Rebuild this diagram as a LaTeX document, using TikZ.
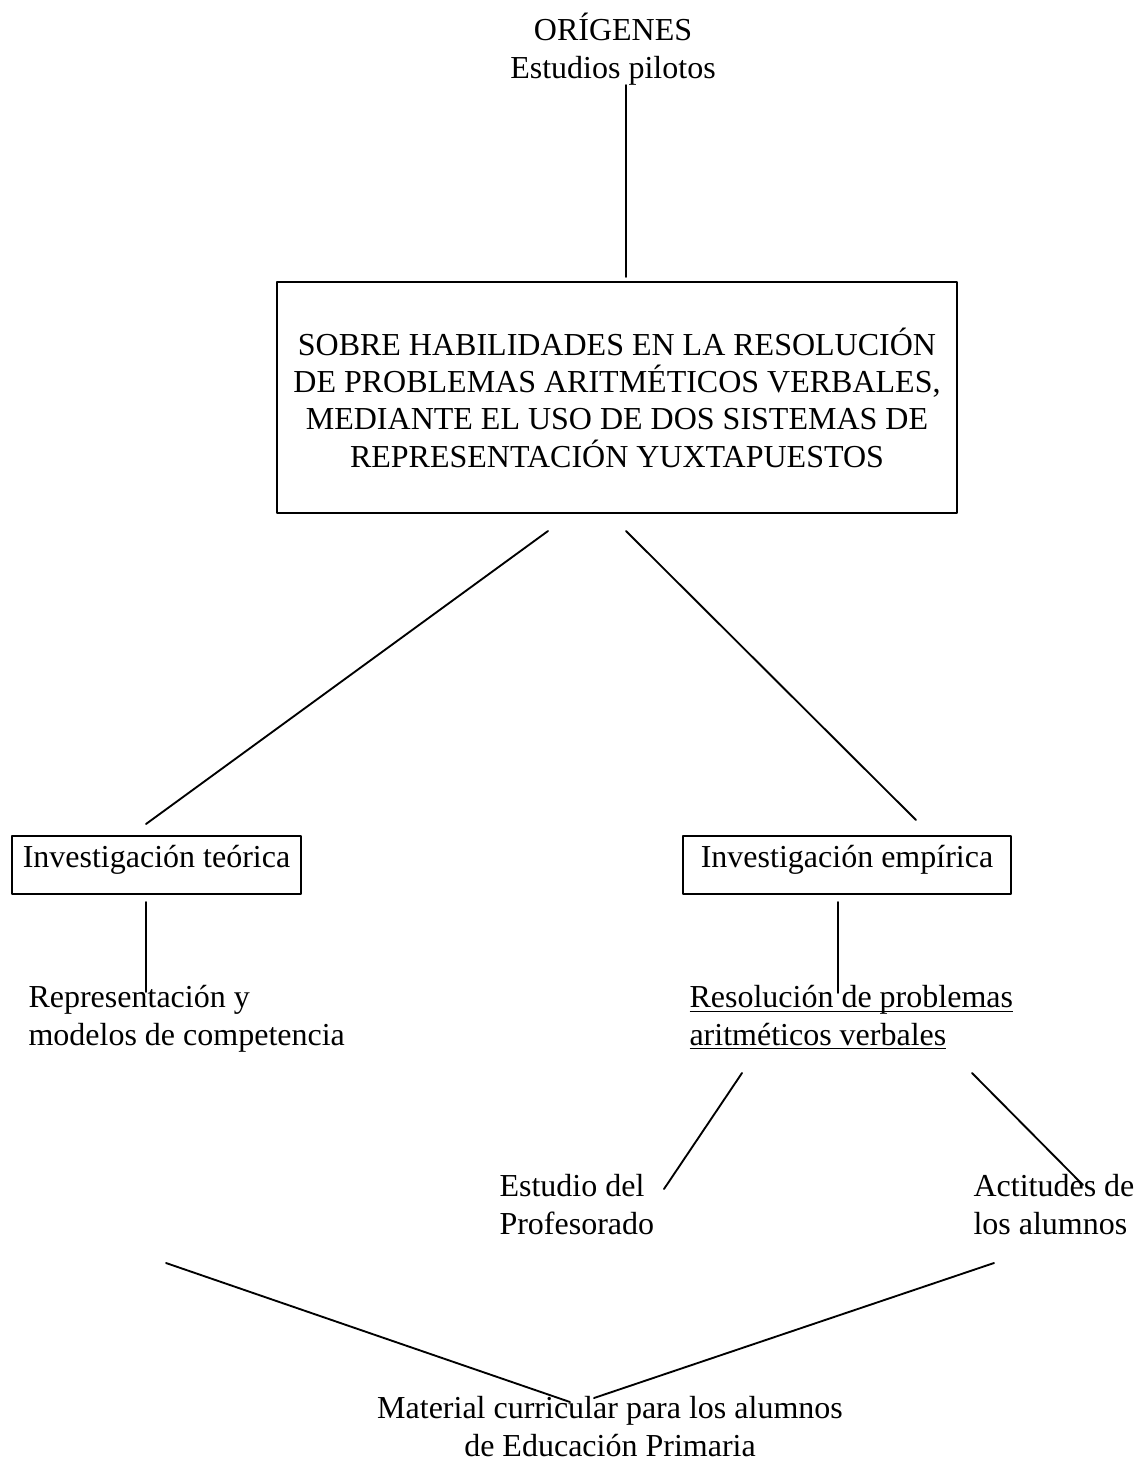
\documentclass[tikz,border=0pt]{standalone}
\usepackage{fontspec}
\setmainfont{Liberation Serif}
\usepackage{tikz}
\usetikzlibrary{positioning}
\tikzset{
  or diagram/.style={font=\fontsize{12}{14}\selectfont, text=black,
    line cap=round, line join=round, x=0.375pt, y=-0.375pt},
  or box/.style={draw=black, line width=1pt, inner sep=0pt, align=center},
  or small box/.style={or box, line width=0.8pt, minimum height=21.75pt,
    text height=8.25pt, text depth=6.75pt},
  or label/.style={align=left, inner sep=0pt},
  or line/.style={draw=black, line width=0.7pt}
}

\begin{document}
\begin{tikzpicture}[or diagram]
\useasboundingbox (0,0) rectangle (1136,1461);
% texts and boxes (base = last line)
\node[or label, align=center, anchor=base] (origenes) at (613,78) {ORÍGENES\\Estudios pilotos};
\node[or box, minimum width=255pt, minimum height=86.6pt] (tema) at (617,397.5)
  {SOBRE HABILIDADES EN LA RESOLUCIÓN\\DE PROBLEMAS ARITMÉTICOS VERBALES,\\MEDIANTE EL USO DE DOS SISTEMAS DE\\REPRESENTACIÓN YUXTAPUESTOS};
\node[or small box, minimum width=108.4pt] (teorica) at (156.5,865) {Investigación teórica};
\node[or small box, minimum width=123pt] (empirica) at (847,865) {Investigación empírica};
\node[or label, anchor=base west] (modelos) at (28,1045) {Representación y\\modelos de competencia};
\node[or label, anchor=base west] (resolucion) at (689,1045)
  {\underline{\smash{Resolución de problemas}}\\\underline{\smash{aritméticos verbales}}};
\node[or label, anchor=base west] (profesorado) at (499,1234) {Estudio del\\Profesorado};
\node[or label, anchor=base west] (actitudes) at (973,1234) {Actitudes de\\los alumnos};
\node[or label, align=center, anchor=base] (material) at (610,1456)
  {Material curricular para los alumnos\\de Educación Primaria};
% free ends of the connectors
\coordinate (origenes end) at (626,85);
\coordinate (tema top) at (626,277);
\coordinate (tema left) at (548,531);
\coordinate (tema right) at (626,531);
\coordinate (teorica top) at (146,824);
\coordinate (empirica top) at (916,820);
\coordinate (teorica end) at (146,902);
\coordinate (modelos top) at (146,992);
\coordinate (empirica end) at (838,902);
\coordinate (resolucion top) at (838,993);
\coordinate (resolucion left) at (742,1073);
\coordinate (resolucion right) at (972,1073);
\coordinate (profesorado end) at (664,1189);
\coordinate (actitudes end) at (1083,1185);
\coordinate (left start) at (166,1263);
\coordinate (right start) at (994,1263);
\coordinate (material left) at (570,1402);
\coordinate (material right) at (594,1398);
\foreach \a/\b in {origenes end/tema top, tema left/teorica top, tema right/empirica top,
    teorica end/modelos top, empirica end/resolucion top,
    resolucion left/profesorado end, resolucion right/actitudes end,
    left start/material left, right start/material right}
  \draw[or line] (\a) -- (\b);
\end{tikzpicture}
\end{document}
